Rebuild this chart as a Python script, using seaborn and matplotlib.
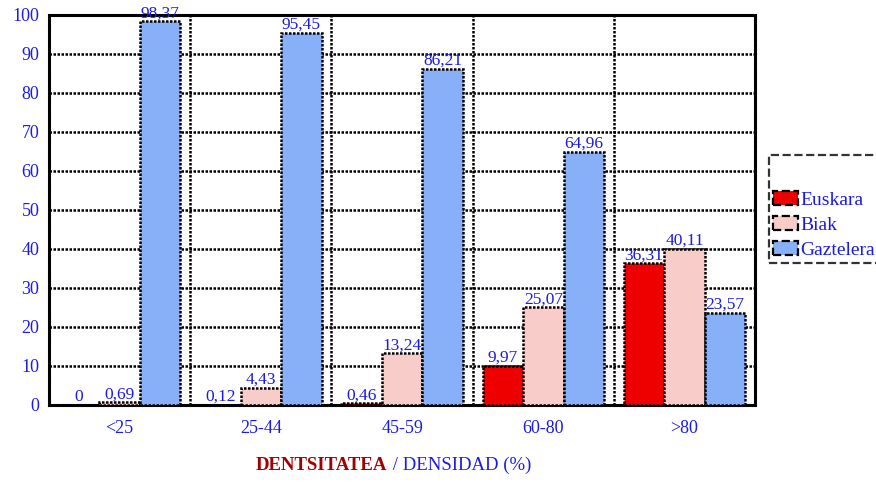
import matplotlib
matplotlib.use("Agg")
import matplotlib.pyplot as plt
import numpy as np
import pandas as pd
import seaborn as sns

# data
categories = ["<25", "25-44", "45-59", "60-80", ">80"]
euskara = [0, 0.12, 0.46, 9.97, 36.31]
biak = [0.69, 4.43, 13.24, 25.07, 40.11]
gaztelera = [98.37, 95.45, 86.21, 64.96, 23.57]
series_names = ["Euskara", "Biak", "Gaztelera"]
colors = ["#ee0000", "#f8ccc8", "#88b0f8"]
y_ticks = list(range(0, 101, 10))

BLUE = "#1c1cdc"
DOT = (0, (1.0, 0.6))

sns.set_style("white")
plt.rcParams["font.family"] = ["Liberation Serif", "DejaVu Serif"]

df = pd.DataFrame({
    "cat": categories * 3,
    "val": euskara + biak + gaztelera,
    "lang": [s for s in series_names for _ in categories],
})

fig = plt.figure(figsize=(8.76, 4.83), dpi=100)
ax = fig.add_axes([0.056, 0.1615, 0.806, 0.8075])

sns.barplot(data=df, x="cat", y="val", hue="lang", order=categories,
            hue_order=series_names, palette=colors, saturation=1,
            width=0.86, gap=0, edgecolor="black", linewidth=1.8,
            ax=ax, zorder=3)
for p in ax.patches:
    p.set_linestyle(DOT)

ax.set_ylim(0, 100)
ax.set_xlim(-0.5, len(categories) - 0.5)
ax.set_yticks(y_ticks)
ax.set_xticks(np.arange(len(categories)) + 0.5, minor=True)
ax.grid(axis="y", which="major", color="black", linestyle=DOT, linewidth=1.8, zorder=0)
ax.grid(axis="x", which="minor", color="black", linestyle=DOT, linewidth=1.8, zorder=0)
ax.set_axisbelow(True)
ax.tick_params(axis="both", which="both", length=0, labelcolor=BLUE, labelsize=13)
ax.tick_params(axis="x", pad=11)
ax.tick_params(axis="y", pad=7)
ax.set_xlabel("")
ax.set_ylabel("")
for s in ax.spines.values():
    s.set_color("black")
    s.set_linewidth(2.2)
    s.set_linestyle(DOT)

for cont, vals in zip(ax.containers, [euskara, biak, gaztelera]):
    labs = ["0" if v == 0 else ("%.2f" % v).replace(".", ",") for v in vals]
    ax.bar_label(cont, labels=labs, padding=0, color=BLUE, fontsize=12.5)

handles, labels = ax.get_legend_handles_labels()
leg = ax.legend(handles, labels, loc="lower left", bbox_to_anchor=(1.02, 0.365),
                title=" ", title_fontsize=20, fontsize=14, frameon=True,
                fancybox=False, edgecolor="black", handlelength=1.3,
                handleheight=0.8, handletextpad=0.1, labelspacing=0.35,
                borderpad=0.2, borderaxespad=0)
leg.get_frame().set_linestyle("--")
leg.get_frame().set_linewidth(1.6)
for t in leg.get_texts():
    t.set_color(BLUE)
for h in leg.legend_handles:
    h.set_linestyle("--")
    h.set_linewidth(1.6)

fig.text(0.442, 0.037, "DENTSITATEA", color="#a00000", fontweight="bold",
         fontsize=13.5, ha="right", va="center")
fig.text(0.443, 0.037, " / DENSIDAD (%)", color=BLUE, fontsize=13.5,
         ha="left", va="center")

fig.savefig("out.png", dpi=100)
